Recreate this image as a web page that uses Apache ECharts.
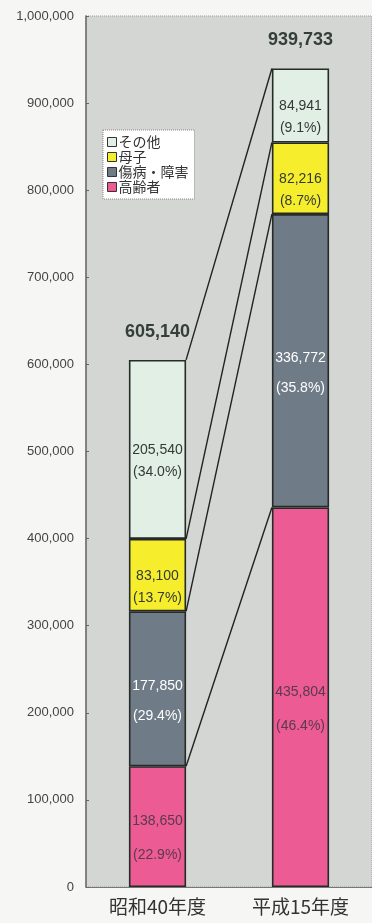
<!DOCTYPE html>
<html>
<head>
<meta charset="utf-8">
<script src="https://cdn.jsdelivr.net/npm/echarts@6/dist/echarts.min.js"></script>
<style>
  html, body { margin: 0; padding: 0; background: #f6f6f4; }
  #chart { width: 372px; height: 923px; }
</style>
</head>
<body>
<div id="chart"></div>
<script>
// Fiscal years compared
const years = ['昭和40年度', '平成15年度'];

// Households by category (stacked bottom to top)
const elderly   = [138650, 435804];   // 高齢者
const disabled  = [177850, 336772];   // 傷病・障害
const mother    = [83100, 82216];     // 母子
const others    = [205540, 84941];    // その他

// Published shares (%) for each category
const elderlyPct  = [22.9, 46.4];
const disabledPct = [29.4, 35.8];
const motherPct   = [13.7, 8.7];
const othersPct   = [34.0, 9.1];

// Y-axis ticks
const yMin = 0;
const yMax = 1000000;
const yStep = 100000;

const stacks = [elderly, disabled, mother, others];
const totals = years.map((_, i) => stacks.reduce((s, arr) => s + arr[i], 0));

// Cumulative tops of each stacked segment, used by the connector lines
const cumulative = [];
let run = [0, 0];
stacks.forEach(arr => {
  run = run.map((v, i) => v + arr[i]);
  cumulative.push(run.slice());
});

const BAR_RATIO = 0.4;
const fontNum = '"Liberation Sans", "Noto Sans CJK JP", sans-serif';
const fontJp = '"Noto Sans CJK JP", sans-serif';

function fmt(v) { return v.toLocaleString('en-US'); }

function barLabel(color, lh, pct) {
  return {
    show: true,
    position: 'inside',
    offset: [0, 12],
    color: color,
    fontSize: 14,
    lineHeight: lh,
    fontFamily: fontNum,
    formatter: p => fmt(p.value) + '\n(' + pct[p.dataIndex].toFixed(1) + '%)'
  };
}

function barSeries(name, data, pct, color, labelColor, lh) {
  return {
    name: name,
    type: 'bar',
    stack: 'total',
    data: data,
    barWidth: (BAR_RATIO * 100) + '%',
    itemStyle: { color: color, borderColor: '#262b28', borderWidth: 1.6 },
    label: barLabel(labelColor, lh, pct),
    emphasis: { disabled: true },
    z: 3
  };
}

const chart = echarts.init(document.getElementById('chart'));

chart.setOption({
  animation: false,
  backgroundColor: '#f6f6f4',
  grid: {
    left: 86, right: 0, top: 16, bottom: 36,
    show: true,
    backgroundColor: '#d3d6d2',
    borderColor: '#9a9c9a',
    borderWidth: 1,
    borderType: 'dotted'
  },
  legend: {
    orient: 'vertical',
    left: 103, top: 130,
    data: ['その他', '母子', '傷病・障害', '高齢者'],
    backgroundColor: '#ffffff',
    borderColor: '#888',
    borderWidth: 1,
    borderType: 'dotted',
    padding: [5, 6, 5, 4],
    itemWidth: 9,
    itemHeight: 9,
    itemGap: 1,
    icon: 'rect',
    itemStyle: { borderColor: '#333', borderWidth: 1 },
    textStyle: { fontSize: 14, color: '#333', fontFamily: fontJp, padding: [0, 0, 0, -3] }
  },
  xAxis: {
    type: 'category',
    data: years,
    axisLine: { show: true, lineStyle: { color: '#777', width: 1 } },
    axisTick: { show: false },
    axisLabel: { fontSize: 19, color: '#333', fontFamily: fontJp, margin: 10 }
  },
  yAxis: {
    type: 'value',
    min: yMin, max: yMax, interval: yStep,
    axisLine: { show: true, lineStyle: { color: '#666', width: 1.5 } },
    axisTick: { show: true, inside: true, length: 3, lineStyle: { color: '#666' } },
    splitLine: { show: false },
    axisLabel: {
      fontSize: 13, color: '#444', fontFamily: fontNum, margin: 12,
      formatter: v => fmt(v)
    }
  },
  series: [
    barSeries('高齢者', elderly, elderlyPct, '#ec5b94', '#5b3a4e', 34),
    barSeries('傷病・障害', disabled, disabledPct, '#6f7b86', '#ffffff', 30),
    barSeries('母子', mother, motherPct, '#f6ee2c', '#333a36', 22),
    barSeries('その他', others, othersPct, '#e1efe5', '#333a36', 22),
    {
      // Lines joining the top of each segment between the two bars
      type: 'custom',
      data: cumulative.map(c => [c[0], c[1]]),
      silent: true,
      z: 4,
      renderItem: function (params, api) {
        const half = api.size([1, 0])[0] * BAR_RATIO / 2;
        const a = api.coord([0, api.value(0)]);
        const b = api.coord([1, api.value(1)]);
        return {
          type: 'line',
          shape: { x1: a[0] + half, y1: a[1], x2: b[0] - half, y2: b[1] },
          style: { stroke: '#222', lineWidth: 1.4 }
        };
      }
    },
    {
      // Total above each bar
      type: 'custom',
      data: totals.map((t, i) => [i, t]),
      silent: true,
      z: 5,
      renderItem: function (params, api) {
        const p = api.coord([api.value(0), api.value(1)]);
        return {
          type: 'text',
          x: p[0], y: p[1] - 28,
          style: {
            text: fmt(api.value(1)),
            fill: '#343e3a',
            font: 'bold 18px ' + fontNum,
            align: 'center',
            verticalAlign: 'middle'
          }
        };
      }
    }
  ]
});
</script>
</body>
</html>
